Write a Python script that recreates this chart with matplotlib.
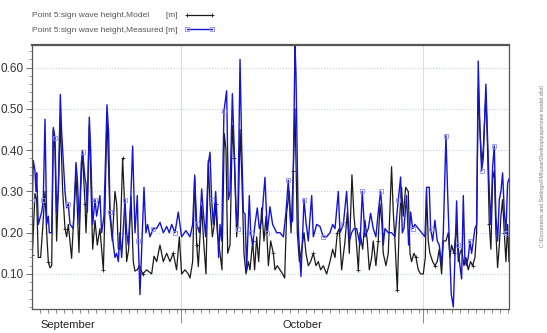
import matplotlib
matplotlib.use('Agg')
import matplotlib.pyplot as plt
from matplotlib.ticker import FixedLocator, MultipleLocator, FormatStrFormatter

plt.rcParams['font.family'] = ['Liberation Sans', 'DejaVu Sans']

# days counted from 1 September
meas_day = [-0.95, -0.83, -0.62, -0.50, -0.41, -0.21, 0.21, 0.41, 0.62, 0.83, 1.03, 1.16, 1.45, 1.65, 1.86,
            2.06, 2.27, 2.52, 2.68, 3.10, 3.30, 3.51, 3.72, 4.13, 4.46, 4.63, 4.87, 5.12, 5.29, 5.58, 5.70,
            5.87, 6.11, 6.28, 6.53, 6.82, 7.02, 7.43, 7.64, 7.93, 8.30, 8.51, 8.67, 9.09, 9.29, 9.50, 9.71,
            9.91, 10.12, 10.53, 10.74, 10.95, 11.23, 11.48, 11.77, 12.06, 12.18, 12.39, 12.68, 12.89, 13.13,
            13.34, 13.63, 14.04, 14.46, 14.87, 15.28, 15.70, 16.03, 16.32, 16.73, 17.14, 17.55, 18.09, 18.59,
            18.92, 19.17, 19.42, 19.75, 20.04, 20.24, 20.53, 20.86, 21.07, 21.27, 21.48, 21.77, 21.98, 22.14,
            22.31, 22.51, 22.80, 23.13, 23.34, 23.55, 23.84, 24.04, 24.29, 24.50, 24.79, 24.99, 25.20, 25.41,
            25.61, 25.94, 26.11, 26.36, 26.64, 26.93, 27.18, 27.47, 27.88, 28.17, 28.50, 28.83, 29.33, 29.74,
            30.16, 30.49, 30.77, 31.06, 31.31, 31.60, 31.72, 32.01, 32.34, 32.72, 32.96, 33.25, 33.67, 33.87,
            34.29, 34.70, 35.11, 35.52, 35.94, 36.27, 36.56, 36.97, 37.18, 37.59, 38.00, 38.33, 38.62, 38.91,
            39.24, 39.66, 39.94, 40.27, 40.69, 40.97, 41.30, 41.63, 41.92, 42.21, 42.38, 42.54, 42.75, 43.16,
            43.57, 43.99, 44.40, 44.69, 44.90, 45.10, 45.43, 45.68, 45.93, 46.18, 46.47, 46.88, 47.29, 47.71,
            47.91, 48.24, 48.41, 48.66, 48.94, 49.23, 49.48, 49.77, 49.98, 50.31, 50.51, 50.72, 50.97, 51.22,
            51.42, 51.63, 51.79, 52.04, 52.25, 52.46, 52.66, 52.87, 53.07, 53.28, 53.49, 53.69, 53.90, 54.11,
            54.31, 54.52, 54.73, 54.93, 55.26, 55.43, 55.68, 55.88, 56.09, 56.30, 56.50, 56.71, 56.92, 57.12,
            57.33, 57.54, 57.74, 57.95, 58.11]
meas_val = [0.28, 0.375, 0.35, 0.30, 0.345, 0.22, 0.25, 0.28, 0.475, 0.22, 0.24, 0.20, 0.20, 0.455, 0.43,
            0.25, 0.30, 0.535, 0.445, 0.30, 0.26, 0.27, 0.22, 0.21, 0.37, 0.33, 0.22, 0.37, 0.395, 0.33, 0.32,
            0.25, 0.48, 0.40, 0.22, 0.28, 0.24, 0.29, 0.20, 0.24, 0.51, 0.44, 0.25, 0.17, 0.14, 0.15, 0.13,
            0.20, 0.14, 0.28, 0.20, 0.17, 0.27, 0.41, 0.20, 0.29, 0.18, 0.05, 0.20, 0.31, 0.20,
            0.22, 0.19, 0.21, 0.21, 0.225, 0.20, 0.215, 0.20, 0.22, 0.20, 0.25, 0.19, 0.205, 0.19,
            0.22, 0.335, 0.22, 0.20, 0.306, 0.25, 0.19, 0.367, 0.395, 0.28, 0.22, 0.30, 0.22, 0.14,
            0.22, 0.18, 0.495, 0.544, 0.28, 0.30, 0.537, 0.42, 0.26, 0.21, 0.62, 0.415, 0.25, 0.245,
            0.11, 0.29, 0.20, 0.17, 0.22, 0.26, 0.21, 0.23, 0.334, 0.20, 0.263, 0.22, 0.20, 0.20,
            0.19, 0.25, 0.327, 0.22, 0.23, 0.652, 0.59, 0.21, 0.094, 0.28, 0.226, 0.18, 0.29, 0.19,
            0.22, 0.215, 0.19, 0.19, 0.20, 0.22, 0.21, 0.30, 0.20, 0.22, 0.30, 0.18, 0.20, 0.21,
            0.21, 0.17, 0.30, 0.19, 0.21, 0.247, 0.21, 0.19, 0.25, 0.30, 0.26, 0.17, 0.21, 0.20,
            0.20, 0.19, 0.28, 0.335, 0.20, 0.21, 0.29, 0.17, 0.25, 0.21, 0.22, 0.21, 0.20, 0.19,
            0.31, 0.31, 0.21, 0.18, 0.23, 0.18, 0.17, 0.12, 0.20, 0.435, 0.30, 0.18, 0.05, 0.02,
            0.14, 0.277, 0.17, 0.12, 0.088, 0.29, 0.13, 0.12, 0.14, 0.18, 0.15, 0.18, 0.21, 0.22,
            0.616, 0.45, 0.35, 0.38, 0.56, 0.45, 0.30, 0.22, 0.36, 0.41, 0.24, 0.18, 0.28, 0.30,
            0.345, 0.25, 0.20, 0.32, 0.33]

model_day = [-0.95, -0.79, -0.62, -0.41, -0.21, 0.08, 0.33, 0.62, 0.83, 1.03, 1.24, 1.45, 1.65, 1.86, 2.06,
             2.27, 2.52, 2.81, 3.10, 3.30, 3.51, 3.92, 4.21, 4.46, 4.83, 5.04, 5.25, 5.58, 5.70, 5.91, 6.11,
             6.40, 6.53, 6.82, 7.10, 7.43, 7.85, 8.05, 8.30, 8.67, 8.96, 9.29, 9.50, 9.71, 9.91, 10.24, 10.53,
             10.74, 10.99, 11.28, 11.56, 11.77, 12.06, 12.31, 12.72, 13.22, 13.84, 14.13, 14.46, 14.87, 15.28,
             15.70, 16.11, 16.52, 16.93, 17.27, 17.55, 17.97, 18.38,
             18.59, 18.92, 19.17, 19.42, 19.62, 20.04, 20.24, 20.57, 20.86, 21.07, 21.36, 21.60, 21.77, 21.98,
             22.31, 22.55, 22.84, 23.05, 23.26, 23.55, 23.84, 24.08, 24.37, 24.58, 24.79, 24.99, 25.28, 25.53,
             25.82, 26.02, 26.36, 26.60, 26.85, 27.10, 27.47, 27.76, 28.01, 28.30, 28.59, 28.92, 29.12, 29.41,
             29.74, 30.07, 30.32, 30.57, 30.90, 31.11, 31.39, 31.60, 31.89, 32.14, 32.43, 32.72, 32.96, 33.25,
             33.54, 33.87, 34.20, 34.49, 34.78, 35.11, 35.52, 35.94, 36.27, 36.56, 36.85, 37.09, 37.38, 37.80,
             38.09, 38.33, 38.66, 38.91, 39.16, 39.45, 39.66, 39.99, 40.27, 40.56, 40.81,
             41.10, 41.30, 41.63, 41.92, 42.13, 42.38, 42.54, 42.87, 43.16, 43.57, 43.78, 43.99, 44.28, 44.52,
             44.81, 45.02, 45.31, 45.64, 45.85, 46.05, 46.34, 46.59, 46.88, 47.17, 47.50, 47.75, 47.91, 48.12,
             48.32, 48.66, 48.94, 49.23, 49.48, 49.77, 49.98, 50.31, 50.60, 50.80, 51.01, 51.30, 51.63, 51.84,
             52.04, 52.25, 52.54, 52.79, 53.07, 53.36, 53.61, 53.90, 54.11, 54.31, 54.52, 54.73, 54.93, 55.26,
             55.47, 55.68, 55.88, 56.09, 56.30, 56.50, 56.71, 56.92, 57.12, 57.33, 57.54, 57.74, 57.95, 58.11]
model_val = [0.145, 0.22, 0.295, 0.28, 0.14, 0.14, 0.21, 0.30, 0.20, 0.13, 0.115, 0.12, 0.45, 0.40, 0.18,
             0.30, 0.47, 0.30, 0.21, 0.19, 0.22, 0.138, 0.25, 0.343, 0.152, 0.30, 0.40, 0.27, 0.20, 0.30, 0.46,
             0.25, 0.16, 0.23, 0.17, 0.21, 0.11, 0.25, 0.49, 0.24, 0.18, 0.30, 0.27, 0.16, 0.16, 0.38, 0.25,
             0.13, 0.16, 0.288, 0.13, 0.107, 0.11, 0.12, 0.10, 0.11, 0.10, 0.143, 0.13, 0.17, 0.13,
             0.15, 0.13, 0.15, 0.11, 0.19, 0.10, 0.11, 0.10,
             0.09, 0.13, 0.34, 0.17, 0.118, 0.265, 0.19, 0.10, 0.375, 0.27, 0.19, 0.22, 0.27, 0.20,
             0.15, 0.11, 0.44, 0.40, 0.15, 0.17, 0.46, 0.38, 0.19, 0.25, 0.45, 0.35, 0.15, 0.10,
             0.13, 0.11, 0.18, 0.11, 0.19, 0.13, 0.26, 0.18, 0.24, 0.12, 0.18, 0.15, 0.11, 0.12,
             0.11, 0.10, 0.09, 0.25, 0.30, 0.20, 0.35, 0.50, 0.20, 0.13, 0.16, 0.20, 0.15, 0.12,
             0.13, 0.15, 0.12, 0.13, 0.11, 0.12, 0.10, 0.13, 0.16, 0.14, 0.20, 0.21, 0.11, 0.18,
             0.25, 0.15, 0.34, 0.24, 0.19, 0.11, 0.20, 0.16, 0.23, 0.18, 0.11,
             0.14, 0.18, 0.12, 0.18, 0.27, 0.22, 0.15, 0.12, 0.15, 0.36, 0.25, 0.18, 0.06, 0.22,
             0.31, 0.24, 0.31, 0.30, 0.15, 0.13, 0.15, 0.14, 0.11, 0.10, 0.10, 0.14, 0.30, 0.18,
             0.15, 0.13, 0.12, 0.13, 0.16, 0.10, 0.18, 0.18, 0.20, 0.14, 0.17, 0.15, 0.22, 0.13,
             0.15, 0.16, 0.12, 0.14, 0.11, 0.13, 0.12, 0.14, 0.20, 0.55, 0.45, 0.37, 0.40, 0.54,
             0.40, 0.22, 0.16, 0.33, 0.35, 0.20, 0.115, 0.17, 0.24, 0.28, 0.20, 0.13, 0.22, 0.13]

month_days = [0, 30]
month_names = ['September', 'October']
grid_days = [17.47, 47.46]
labels = ['Point 5:sign wave height,Model       [m]', 'Point 5:sign wave height,Measured [m]']
file_path = r'C:\Documents and Settings\FMI\user\Desktop\paper\new model.dfs0'

fig = plt.figure(figsize=(5.47, 3.33), dpi=100)
ax = fig.add_axes([0.0585, 0.072, 0.872, 0.793])

ax.plot(model_day, model_val, color='#1a1a1a', lw=0.9, marker='+', ms=3, mew=0.6,
        markevery=9, label=labels[0])
ax.plot(meas_day, meas_val, color='#1414d2', lw=1.0, marker='s', ms=3.2, mfc='none',
        mec='#8c8cff', mew=0.6, markevery=7, label=labels[1])

ax.set_xlim(-0.99, 58.12)
ax.set_ylim(0.015, 0.655)
ax.yaxis.set_major_locator(MultipleLocator(0.1))
ax.yaxis.set_minor_locator(MultipleLocator(0.02))
ax.yaxis.set_major_formatter(FormatStrFormatter('%.2f'))
ax.xaxis.set_major_locator(FixedLocator(grid_days))
ax.xaxis.set_minor_locator(MultipleLocator(1))
ax.tick_params(axis='x', which='major', length=10, width=0.6, color='#777', labelbottom=False)
ax.tick_params(axis='x', which='minor', length=3, width=0.6, color='#777')
ax.tick_params(axis='y', which='major', length=4, width=0.6, color='#555', labelsize=8.5, labelcolor='#333', pad=2)
ax.tick_params(axis='y', which='minor', length=2, width=0.5, color='#777')

ax.grid(axis='y', which='major', color='#c4cfe4', ls=':', lw=0.8)
ax.grid(axis='x', which='major', color='#bcdcf2', ls='-', lw=0.6)

for sp in ax.spines.values():
    sp.set_color('#555555')
    sp.set_linewidth(0.9)
ax.spines['top'].set_linewidth(1.6)

for d, name in zip(month_days, month_names):
    ax.text(d + 0.1, -0.04, name, transform=ax.get_xaxis_transform(),
            ha='left', va='top', fontsize=8, color='#222')

leg = fig.legend(loc='upper left', bbox_to_anchor=(0.0585, 0.965), frameon=False, markerfirst=False,
                 fontsize=6.0, handlelength=3.6, labelspacing=0.85, handletextpad=0.8,
                 borderaxespad=0, borderpad=0, numpoints=2)
for t in leg.get_texts():
    t.set_color('#555555')

fig.text(0.997, 0.5, file_path, rotation=90, fontsize=3.8, color='#777', ha='right', va='center')

fig.savefig('out.png', dpi=100)
